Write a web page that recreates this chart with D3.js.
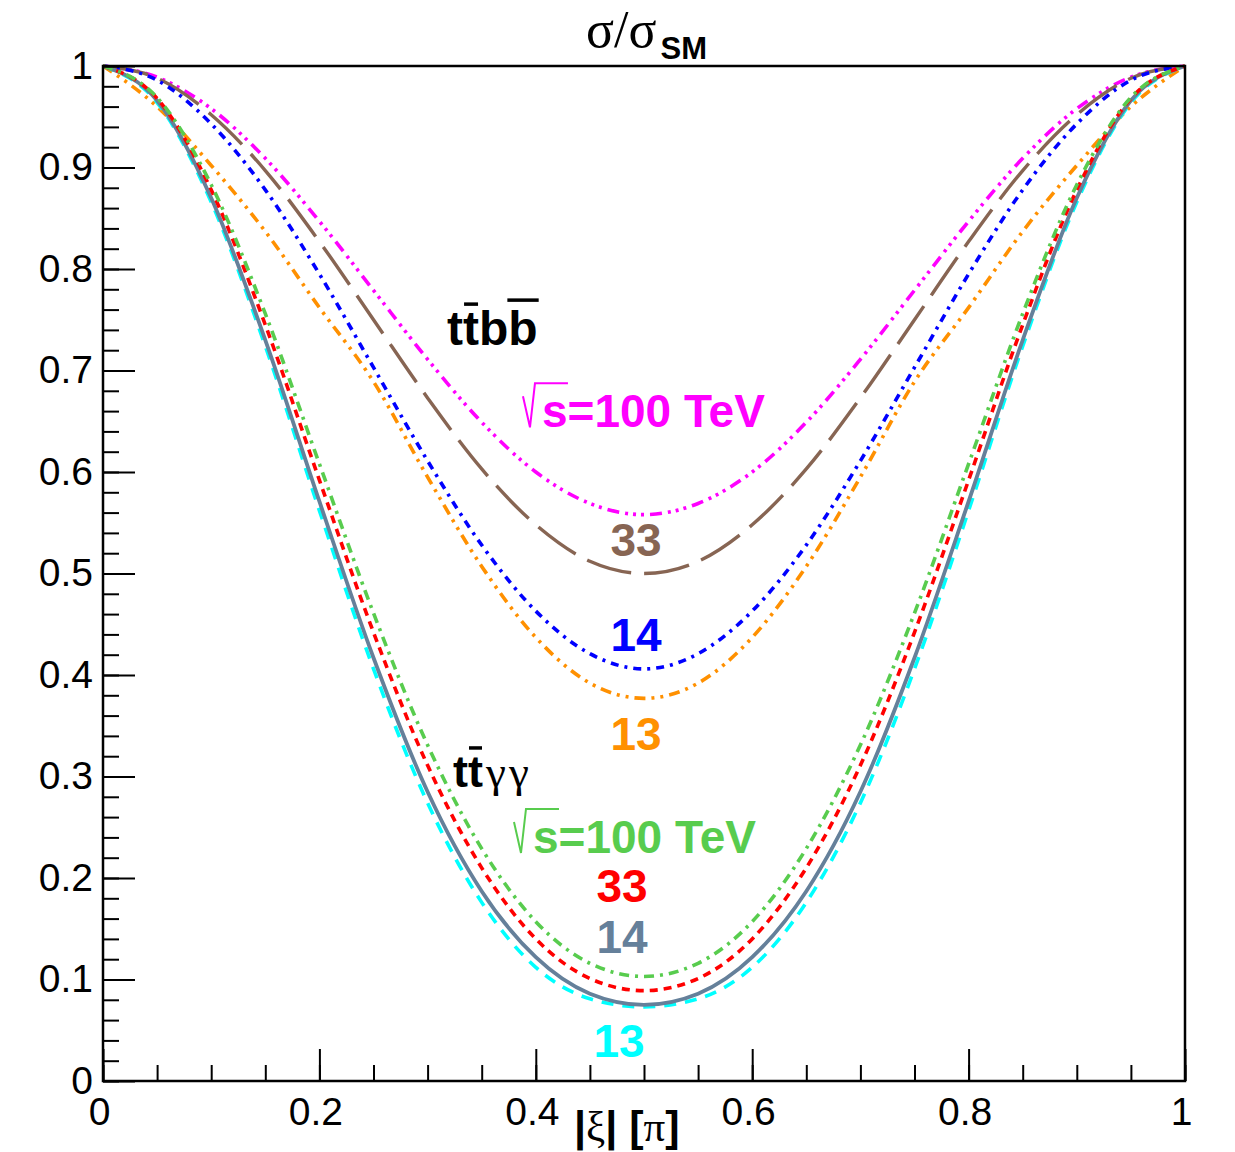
<!DOCTYPE html>
<html>
<head>
<meta charset="utf-8">
<script src="https://cdn.jsdelivr.net/npm/d3@7"></script>
<style>
  body { margin: 0; background: #fff; }
  svg { display: block; }
</style>
</head>
<body>
<script>
// |xi| in units of pi
const xi = [0, 0.05, 0.1, 0.15, 0.2, 0.25, 0.3, 0.35, 0.4, 0.45, 0.5,
            0.55, 0.6, 0.65, 0.7, 0.75, 0.8, 0.85, 0.9, 0.95, 1];

// sigma / sigma_SM for ttbb at each collider energy
const ttbb100 = [1, 0.989, 0.958, 0.909, 0.847, 0.779, 0.711, 0.649, 0.600, 0.569, 0.558,
                 0.569, 0.600, 0.649, 0.711, 0.779, 0.847, 0.909, 0.958, 0.989, 1];
const ttbb33  = [1, 0.988, 0.952, 0.897, 0.827, 0.750, 0.673, 0.603, 0.548, 0.512, 0.500,
                 0.512, 0.548, 0.603, 0.673, 0.750, 0.827, 0.897, 0.952, 0.988, 1];
const ttbb14  = [1, 0.986, 0.943, 0.878, 0.795, 0.703, 0.611, 0.528, 0.463, 0.421, 0.406,
                 0.421, 0.463, 0.528, 0.611, 0.703, 0.795, 0.878, 0.943, 0.986, 1];
const ttbb13  = [1, 0.960, 0.902, 0.837, 0.762, 0.689, 0.595, 0.507, 0.437, 0.392, 0.377,
                 0.392, 0.437, 0.507, 0.595, 0.689, 0.762, 0.837, 0.902, 0.960, 1];

// sigma / sigma_SM for tt gamma gamma
const ttaa100 = [1, 0.969, 0.883, 0.756, 0.608, 0.461, 0.331, 0.229, 0.157, 0.116, 0.103,
                 0.116, 0.157, 0.229, 0.331, 0.461, 0.608, 0.756, 0.883, 0.969, 1];
const ttaa33  = [1, 0.968, 0.878, 0.745, 0.592, 0.442, 0.311, 0.210, 0.140, 0.101, 0.089,
                 0.101, 0.140, 0.210, 0.311, 0.442, 0.592, 0.745, 0.878, 0.968, 1];
const ttaa14  = [1, 0.966, 0.870, 0.730, 0.571, 0.417, 0.285, 0.187, 0.122, 0.086, 0.075,
                 0.086, 0.122, 0.187, 0.285, 0.417, 0.571, 0.730, 0.870, 0.966, 1];
const ttaa13  = [1, 0.964, 0.866, 0.724, 0.562, 0.406, 0.274, 0.176, 0.112, 0.081, 0.073,
                 0.081, 0.112, 0.176, 0.274, 0.406, 0.562, 0.724, 0.866, 0.964, 1];

// axis ticks
const xTicks = [0, 0.2, 0.4, 0.6, 0.8, 1];
const xTickLabels = ["0", "0.2", "0.4", "0.6", "0.8", "1"];
const yTicks = [0, 0.1, 0.2, 0.3, 0.4, 0.5, 0.6, 0.7, 0.8, 0.9, 1];
const yTickLabels = ["0", "0.1", "0.2", "0.3", "0.4", "0.5", "0.6", "0.7", "0.8", "0.9", "1"];

const W = 1235, H = 1152;
const SANS = "'Liberation Sans', Arial, Helvetica, sans-serif";
const SERIF = "'Liberation Serif', 'Times New Roman', serif";

const C = {
  magenta: "#ff00ff", brown: "#876553", blue: "#0000ff", orange: "#ff9000",
  green: "#58cc4e", red: "#ff0000", slate: "#65809a", cyan: "#00ffff"
};

const svg = d3.select("body").append("svg")
  .attr("width", W).attr("height", H)
  .attr("viewBox", `0 0 ${W} ${H}`);

const x = d3.scaleLinear().domain([0, 1]).range([103, 1185]);
const y = d3.scaleLinear().domain([0, 1]).range([1081, 66]);

// ---------- curves ----------
const series = [
  { v: ttbb100, color: C.magenta, dash: "12 6 3 5 3 5 3 6", w: 3.6 },
  { v: ttbb33,  color: C.brown,   dash: "46 13",            w: 3.4 },
  { v: ttbb14,  color: C.blue,    dash: "8 6 3 6",          w: 3.6 },
  { v: ttbb13,  color: C.orange,  dash: "11 6 3 6 3 6",     w: 3.6 },
  { v: ttaa13,  color: C.cyan,    dash: "12 9",             w: 3.6 },
  { v: ttaa14,  color: C.slate,   dash: null,               w: 3.8 },
  { v: ttaa33,  color: C.red,     dash: "8 6",              w: 3.6 },
  { v: ttaa100, color: C.green,   dash: "10 6 3 6",         w: 3.6 }
];

const line = d3.line()
  .x((d, i) => x(xi[i]))
  .y(d => y(d))
  .curve(d3.curveMonotoneX);

const gCurves = svg.append("g");
series.forEach(s => {
  gCurves.append("path")
    .attr("d", line(s.v))
    .attr("fill", "none")
    .attr("stroke", s.color)
    .attr("stroke-width", s.w)
    .attr("stroke-dasharray", s.dash)
    .attr("stroke-linejoin", "round");
});

// ---------- axes ----------
function styleAxis(g) {
  g.select(".domain").remove();
  g.selectAll(".tick line").attr("stroke", "#000").attr("stroke-width", 2);
  g.selectAll("text")
    .attr("font-family", SANS)
    .attr("font-size", 39)
    .attr("fill", "#000");
}

svg.append("g").attr("transform", "translate(103,0)")
  .call(d3.axisLeft(y).tickValues(y.ticks(50)).tickSize(-16).tickFormat(""))
  .call(styleAxis);
svg.append("g").attr("transform", "translate(103,0)")
  .call(d3.axisLeft(y).tickValues(yTicks).tickSize(-32).tickPadding(10)
        .tickFormat((d, i) => yTickLabels[i]))
  .call(styleAxis);

svg.append("g").attr("transform", "translate(0,1081)")
  .call(d3.axisBottom(x).tickValues(x.ticks(25)).tickSize(-16).tickFormat(""))
  .call(styleAxis);
const xAx = svg.append("g").attr("transform", "translate(0,1081)")
  .call(d3.axisBottom(x).tickValues(xTicks).tickSize(-32).tickPadding(16)
        .tickFormat((d, i) => xTickLabels[i]))
  .call(styleAxis);
xAx.selectAll("text").attr("dx", -4);

// frame
svg.append("rect")
  .attr("x", x(0)).attr("y", y(1))
  .attr("width", x(1) - x(0)).attr("height", y(0) - y(1))
  .attr("fill", "none").attr("stroke", "#000").attr("stroke-width", 2.5);

// ---------- titles ----------
const title = svg.append("text")
  .attr("x", 586).attr("y", 47)
  .attr("font-family", SERIF).attr("font-size", 52).attr("fill", "#000");
title.append("tspan").text("σ/σ");
title.append("tspan").attr("font-family", SANS).attr("font-weight", "bold")
  .attr("font-size", 31).attr("dy", 12).attr("dx", 4).text("SM");

const xTitle = svg.append("text")
  .attr("x", 574).attr("y", 1141)
  .attr("font-size", 43).attr("font-weight", "bold").attr("fill", "#000");
xTitle.append("tspan").attr("font-family", SANS).text("|");
xTitle.append("tspan").attr("font-family", SERIF).attr("font-weight", "normal").text("ξ");
xTitle.append("tspan").attr("font-family", SANS).text("| [");
xTitle.append("tspan").attr("font-family", SERIF).attr("font-weight", "normal").text("π");
xTitle.append("tspan").attr("font-family", SANS).text("]");

// ---------- annotations ----------
const LBL = 46;

function overbar(textSel, idx, lift, color, pad) {
  const r = textSel.node().getExtentOfChar(idx);
  const base = +textSel.attr("y");
  svg.append("line")
    .attr("x1", r.x - pad).attr("x2", r.x + r.width + pad)
    .attr("y1", base - lift).attr("y2", base - lift)
    .attr("stroke", color).attr("stroke-width", 3.5);
}

// process labels
const ttbbLbl = svg.append("text")
  .attr("x", x(0.318)).attr("y", y(0.725))
  .attr("font-family", SANS).attr("font-weight", "bold")
  .attr("font-size", 48).attr("fill", "#000").text("ttbb");
overbar(ttbbLbl, 1, 41, "#000", -1);
overbar(ttbbLbl, 3, 45, "#000", 1);

const ttaaLbl = svg.append("text")
  .attr("x", x(0.3235)).attr("y", y(0.2897))
  .attr("font-size", 45).attr("fill", "#000");
ttaaLbl.append("tspan").attr("font-family", SANS).attr("font-weight", "bold").text("tt");
ttaaLbl.append("tspan").attr("font-family", SERIF).attr("dx", 3).text("γ");
ttaaLbl.append("tspan").attr("font-family", SERIF).attr("dx", 3).text("γ");
overbar(ttaaLbl, 1, 39, "#000", -1);

// energy labels with radical sign
function sqrtLabel(px, py, color) {
  const gx = x(px), gy = y(py);
  svg.append("path")
    .attr("d", `M${gx - 19},${gy - 31} L${gx - 12},${gy} L${gx - 7},${gy - 44} L${gx + 26},${gy - 44}`)
    .attr("fill", "none").attr("stroke", color).attr("stroke-width", 2);
  svg.append("text")
    .attr("x", gx).attr("y", gy)
    .attr("font-family", SANS).attr("font-weight", "bold")
    .attr("font-size", LBL).attr("fill", color).text("s=100 TeV");
}
sqrtLabel(0.4057, 0.644, C.magenta);
sqrtLabel(0.3974, 0.2247, C.green);

const numLabels = [
  { text: "33", at: [0.4926, 0.517],  color: C.brown },
  { text: "14", at: [0.4926, 0.4236], color: C.blue },
  { text: "13", at: [0.4926, 0.326],  color: C.orange },
  { text: "33", at: [0.4797, 0.1763], color: C.red },
  { text: "14", at: [0.4797, 0.1261], color: C.slate },
  { text: "13", at: [0.4770, 0.0236], color: C.cyan }
];
svg.append("g").selectAll("text").data(numLabels).join("text")
  .attr("x", d => x(d.at[0])).attr("y", d => y(d.at[1]))
  .attr("text-anchor", "middle")
  .attr("font-family", SANS).attr("font-weight", "bold")
  .attr("font-size", LBL).attr("fill", d => d.color)
  .text(d => d.text);
</script>
</body>
</html>
